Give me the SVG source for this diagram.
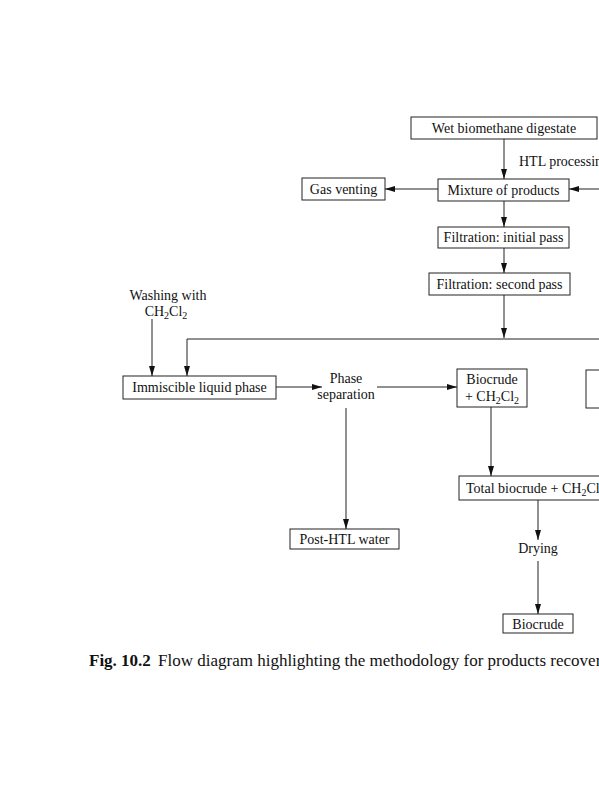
<svg xmlns="http://www.w3.org/2000/svg" width="599" height="800" viewBox="0 0 599 800">
<style>
.box{fill:#fff;stroke:#222;stroke-width:1}
.t{font-family:"Liberation Serif",serif;font-size:14px;fill:#111;text-anchor:middle}
.st{text-anchor:start}
.s{font-size:10px}
.ln{stroke:#222;stroke-width:1;fill:none}
.cap{font-family:"Liberation Serif",serif;font-size:17px;fill:#111}
</style>
<defs>
<marker id="ah" viewBox="0 0 10 6" refX="10" refY="3" markerWidth="10" markerHeight="6" markerUnits="userSpaceOnUse" orient="auto">
<path d="M0,0 L10,3 L0,6 Z" fill="#111"/>
</marker>
</defs>
<rect width="599" height="800" fill="#fff"/>
<g id="connectors">
<line class="ln" x1="504" y1="139" x2="504" y2="179" marker-end="url(#ah)"/>
<line class="ln" x1="620" y1="189" x2="569" y2="189" marker-end="url(#ah)"/>
<line class="ln" x1="438" y1="189" x2="385" y2="189" marker-end="url(#ah)"/>
<line class="ln" x1="504" y1="201" x2="504" y2="227" marker-end="url(#ah)"/>
<line class="ln" x1="504" y1="248" x2="504" y2="273" marker-end="url(#ah)"/>
<line class="ln" x1="504" y1="295" x2="504" y2="338" marker-end="url(#ah)"/>
<polyline class="ln" points="620,339 187,339 187,376" marker-end="url(#ah)"/>
<line class="ln" x1="152" y1="319" x2="152" y2="376" marker-end="url(#ah)"/>
<line class="ln" x1="276" y1="387" x2="322" y2="387" marker-end="url(#ah)"/>
<line class="ln" x1="377" y1="387" x2="457" y2="387" marker-end="url(#ah)"/>
<line class="ln" x1="346" y1="408" x2="346" y2="529" marker-end="url(#ah)"/>
<line class="ln" x1="491" y1="407" x2="491" y2="476" marker-end="url(#ah)"/>
<line class="ln" x1="538" y1="500" x2="538" y2="540" marker-end="url(#ah)"/>
<line class="ln" x1="538" y1="561" x2="538" y2="614" marker-end="url(#ah)"/>
</g>
<g id="wet">
<rect class="box" x="411" y="117" width="186" height="22"/>
<text class="t" x="504" y="133">Wet biomethane digestate</text>
</g>
<g id="htl"><text class="t st" x="519" y="166">HTL processing</text></g>
<g id="mixture">
<rect class="box" x="438" y="179" width="131" height="22"/>
<text class="t" x="503.5" y="195">Mixture of products</text>
</g>
<g id="gas">
<rect class="box" x="302" y="178" width="83" height="22"/>
<text class="t" x="343.5" y="194">Gas venting</text>
</g>
<g id="filt1">
<rect class="box" x="438" y="227" width="131" height="21"/>
<text class="t" x="503.5" y="242">Filtration: initial pass</text>
</g>
<g id="filt2">
<rect class="box" x="429" y="273" width="141" height="22"/>
<text class="t" x="499.5" y="289">Filtration: second pass</text>
</g>
<g id="washing">
<text class="t" x="168" y="300">Washing with</text>
<text class="t" x="166" y="316">CH<tspan class="s" dy="3">2</tspan><tspan dy="-3">Cl</tspan><tspan class="s" dy="3">2</tspan></text>
</g>
<g id="immiscible">
<rect class="box" x="123" y="376" width="153" height="23"/>
<text class="t" x="199.5" y="392">Immiscible liquid phase</text>
</g>
<g id="phase">
<text class="t" x="346" y="383">Phase</text>
<text class="t" x="346" y="399">separation</text>
</g>
<g id="biocrude-ch2cl2">
<rect class="box" x="457" y="369" width="70" height="38"/>
<text class="t" x="492" y="384">Biocrude</text>
<text class="t" x="492" y="401">+ CH<tspan class="s" dy="3">2</tspan><tspan dy="-3">Cl</tspan><tspan class="s" dy="3">2</tspan></text>
</g>
<g id="right-box">
<rect class="box" x="586" y="370" width="60" height="38"/>
</g>
<g id="total">
<rect class="box" x="459" y="476" width="180" height="24"/>
<text class="t st" x="466" y="493">Total biocrude + CH<tspan class="s" dy="3">2</tspan><tspan dy="-3">Cl</tspan><tspan class="s" dy="3">2</tspan></text>
</g>
<g id="post">
<rect class="box" x="290" y="529" width="109" height="20"/>
<text class="t" x="344.5" y="544">Post-HTL water</text>
</g>
<g id="drying"><text class="t" x="538" y="553">Drying</text></g>
<g id="biocrude">
<rect class="box" x="503" y="614" width="70" height="19"/>
<text class="t" x="538" y="629">Biocrude</text>
</g>
<g id="caption">
<text class="cap" x="89" y="666"><tspan font-weight="bold">Fig. 10.2</tspan><tspan x="158">Flow diagram highlighting the methodology for products recovery</tspan></text>
</g>
</svg>
